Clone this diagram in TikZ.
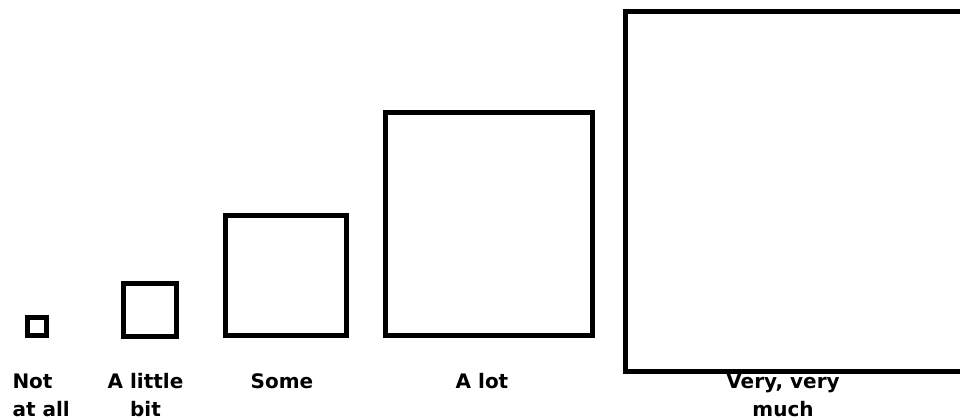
\documentclass[tikz,border=0pt]{standalone}
\usepackage{fontspec}
\setmainfont{DejaVu Sans}
\begin{document}
\begin{tikzpicture}[x=0.75pt,y=-0.75pt,line width=3.75pt,
  every node/.style={font=\bfseries\fontsize{15pt}{21pt}\selectfont,inner sep=0pt,anchor=base}]
\clip (0,0) rectangle (960,419);
\fill[white] (0,0) rectangle (960,419);
% corners of the squares
\coordinate (A1) at (27.5,317.5);  \coordinate (B1) at (46.5,335.5);
\coordinate (A2) at (123.5,283.5); \coordinate (B2) at (176.5,336.5);
\coordinate (A3) at (225.5,215.5); \coordinate (B3) at (346.5,335.5);
\coordinate (A4) at (385.5,112.5); \coordinate (B4) at (592.5,335.5);
\coordinate (A5) at (625.5,11.5);  \coordinate (B5) at (990,371.5);
% labels (two-line ones sit on their last line)
\node[anchor=base west,align=left] (notatall) at (10,416) {Not\\at all};
\node[align=center] (alittle) at (145.5,416) {A little\\bit};
\node (some) at (282,388) {Some};
\node (alot) at (482,388) {A lot};
\node[align=center] (veryvery) at (783,416) {Very, very\\much};
% squares
\draw (A1) rectangle (B1);
\draw (A2) rectangle (B2);
\draw (A3) rectangle (B3);
\draw (A4) rectangle (B4);
\draw (A5) rectangle (B5);
\end{tikzpicture}
\end{document}
